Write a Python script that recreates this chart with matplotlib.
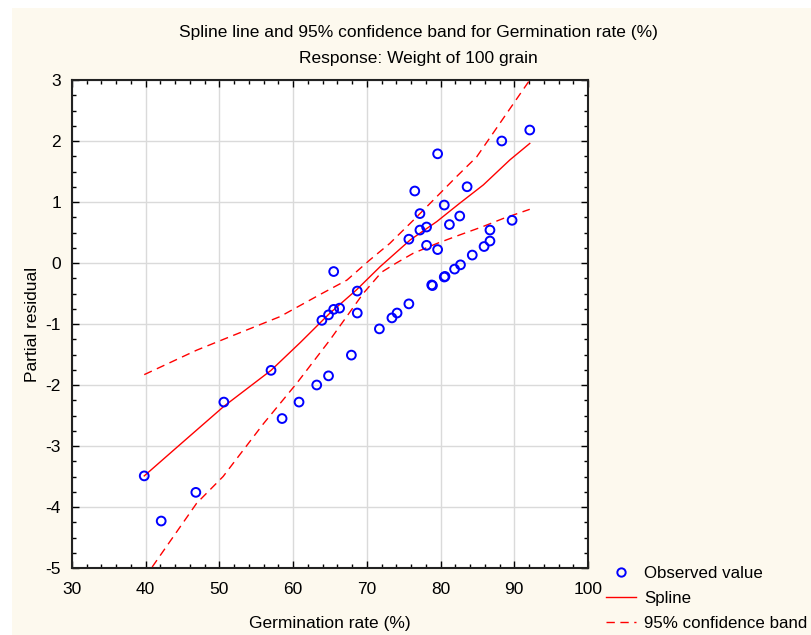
import matplotlib
matplotlib.use("Agg")
import matplotlib.pyplot as plt
from matplotlib.patches import Rectangle
from matplotlib.lines import Line2D
from matplotlib.ticker import MultipleLocator

plt.rcParams['font.family'] = ['Liberation Sans', 'DejaVu Sans']
plt.rcParams['axes.unicode_minus'] = False

# Observed values (partial residuals)
obs_x = [39.8, 42.1, 46.8, 50.6, 57.0, 58.5, 60.8, 63.2, 63.9, 64.8, 64.8, 65.5, 65.5,
         66.3, 67.9, 68.7, 68.7, 71.7, 73.4, 74.1, 75.7, 78.8, 78.9, 80.5, 80.6, 81.9,
         82.7, 84.3, 85.9, 86.7, 86.7, 89.7, 92.1, 88.3, 79.6, 76.5, 83.6, 80.5, 77.2,
         82.6, 81.2, 77.2, 78.1, 75.7, 78.1, 79.6]
obs_y = [-3.49, -4.23, -3.76, -2.28, -1.76, -2.55, -2.28, -2.00, -0.94, -0.85, -1.85, -0.14, -0.76,
         -0.74, -1.51, -0.46, -0.82, -1.08, -0.90, -0.82, -0.67, -0.36, -0.37, -0.23, -0.22, -0.10,
         -0.03, 0.13, 0.27, 0.36, 0.54, 0.70, 2.18, 2.00, 1.79, 1.18, 1.25, 0.95, 0.81,
         0.77, 0.63, 0.54, 0.59, 0.39, 0.29, 0.22]

# Spline line
spline_x = [39.8, 45.0, 50.6, 57.0, 61.0, 65.0, 68.6, 71.8, 75.9, 79.5, 82.6, 85.8, 89.4, 92.1]
spline_y = [-3.49, -2.94, -2.35, -1.76, -1.30, -0.82, -0.44, -0.06, 0.38, 0.68, 0.98, 1.28, 1.69, 1.96]

# 95% confidence band
upper_x = [39.8, 46.9, 51.4, 58.2, 63.6, 67.3, 70.4, 73.1, 76.3, 79.5, 82.2, 84.9, 88.1, 92.1]
upper_y = [-1.83, -1.43, -1.21, -0.88, -0.52, -0.28, 0.05, 0.32, 0.70, 1.09, 1.42, 1.74, 2.30, 3.00]
lower_x = [39.8, 46.9, 50.5, 56.0, 60.5, 65.0, 69.5, 72.0, 74.0, 76.3, 79.5, 82.6, 85.8, 88.5, 92.1]
lower_y = [-5.17, -3.94, -3.50, -2.63, -1.97, -1.26, -0.50, -0.15, 0.00, 0.16, 0.32, 0.46, 0.60, 0.73, 0.88]

title_lines = ["Spline line and 95% confidence band for Germination rate (%)",
               "Response: Weight of 100 grain"]
x_label = "Germination rate (%)"
y_label = "Partial residual"
legend_labels = ["Observed value", "Spline", "95% confidence band"]

W, H = 811, 635
fig = plt.figure(figsize=(W / 100, H / 100), dpi=100, facecolor='white')
fig.patches.append(Rectangle((12 / W, 0), 1 - 12 / W, 1 - 8 / H, transform=fig.transFigure,
                             facecolor='#FDF9EE', edgecolor='none', zorder=-10))

ax = fig.add_axes([72 / W, 1 - 568 / H, (588 - 72) / W, (568 - 80) / H])
ax.set_facecolor('white')
ax.set_xlim(30, 100)
ax.set_ylim(-5, 3)
ax.xaxis.set_major_locator(MultipleLocator(10))
ax.xaxis.set_minor_locator(MultipleLocator(2))
ax.yaxis.set_major_locator(MultipleLocator(1))
ax.yaxis.set_minor_locator(MultipleLocator(0.25))
ax.grid(True, which='major', color='#DADADA', linewidth=1.0, zorder=0)
ax.set_axisbelow(True)
ax.tick_params(which='both', direction='in', top=True, right=True, labelsize=12.5,
               width=1.0, color='black')
ax.tick_params(which='major', length=5)
ax.tick_params(which='minor', length=3)
ax.tick_params(axis='x', which='major', pad=10)
ax.tick_params(axis='y', which='major', pad=8)
for s in ax.spines.values():
    s.set_linewidth(1.5)
    s.set_color('#222222')

ax.plot(upper_x, upper_y, color='#FF0000', lw=1.0, ls=(0, (6, 4)), zorder=3)
ax.plot(lower_x, lower_y, color='#FF0000', lw=1.0, ls=(0, (6, 4)), zorder=3)
ax.plot(spline_x, spline_y, color='#FF0000', lw=1.0, zorder=3)
ax.scatter(obs_x, obs_y, s=40, facecolors='none', edgecolors='#0000FF', linewidths=1.4, zorder=4)

ax.set_xlabel(x_label, fontsize=12.5, labelpad=14)
ax.set_ylabel(y_label, fontsize=12.5, labelpad=4)

fig.text(418 / W, 1 - 33 / H, title_lines[0], ha='center', va='center', fontsize=12.5)
fig.text(418 / W, 1 - 59 / H, title_lines[1], ha='center', va='center', fontsize=12.5)

handles = [Line2D([], [], ls='none', marker='o', markersize=6, markerfacecolor='none',
                  markeredgecolor='#0000FF', markeredgewidth=1.4),
           Line2D([], [], color='#FF0000', lw=1.0),
           Line2D([], [], color='#FF0000', lw=1.0, ls=(0, (6, 4)))]
fig.legend(handles, legend_labels, loc='upper left', bbox_to_anchor=(606 / W, 1 - 566 / H),
           frameon=False, fontsize=12.2, handlelength=1.75, handletextpad=0.5,
           labelspacing=0.58, borderpad=0, borderaxespad=0)

fig.savefig('out.png', dpi=100, facecolor='white')
